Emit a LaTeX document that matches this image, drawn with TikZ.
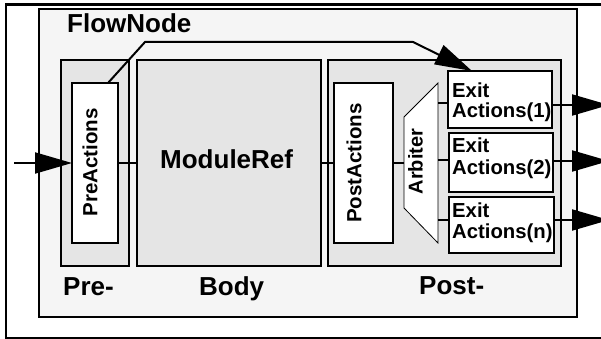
\documentclass[tikz,border=0pt]{standalone}
\usepackage{fontspec}
\setmainfont{Liberation Sans}
\usepackage{graphicx}
\usetikzlibrary{arrows.meta}
\definecolor{nodefill}{HTML}{F5F5F5}
\definecolor{partfill}{HTML}{E5E5E5}
\begin{document}
\begin{tikzpicture}[x=1pt,y=-1pt,
  box/.style={draw,line width=2pt,inner sep=0pt,outer sep=0pt,anchor=north west},
  part/.style={box,fill=partfill,minimum height=206pt},
  actbox/.style={box,fill=white,minimum height=160pt},
  exitbox/.style={box,fill=white},
  biglabel/.style={font=\bfseries\fontsize{26}{28}\selectfont,inner sep=0pt,anchor=base west},
  vlabel/.style={font=\bfseries\fontsize{20.5}{22}\selectfont,inner sep=0pt,rotate=90},
  exitlabel/.style={font=\bfseries\fontsize{20.3}{21}\selectfont,inner sep=0pt,anchor=base west,align=left},
  wire/.style={line width=2pt},
  arrow/.style={line width=2pt,-{Triangle[length=37pt,width=21pt]}}]
\useasboundingbox (0,0) rectangle (601,339);
\clip (0,0) rectangle (601,339);

% frame and flow node
\node[box,line width=2.5pt,minimum width=610pt,minimum height=333.5pt] (frame) at (6,4.5) {};
\node[box,fill=nodefill,minimum width=538pt,minimum height=308pt] (flow) at (39,9) {};
\node[biglabel] (flowlbl) at (67,33) {FlowNode};

% the three parts
\node[part,minimum width=68pt] (pre) at (61,60) {};
\node[part,minimum width=184pt] (body) at (137,60) {};
\node[part,minimum width=233pt] (post) at (328,60) {};
\node[biglabel] (prelbl) at (63,295) {Pre-};
\node[biglabel] (bodylbl) at (199,295) {Body};
\node[biglabel] (postlbl) at (419,294) {Post-};
\node[biglabel] (modref) at (160,168) {ModuleRef};

% action boxes
\node[actbox,minimum width=46pt] (pa) at (72,83) {};
\node[vlabel] (palbl) at (90,162.5) {PreActions};
\node[actbox,minimum width=59pt] (pst) at (334,83) {};
\node[vlabel] (pstlbl) at (354,163) {PostActions};

% arbiter
\node[inner sep=0pt,outer sep=0pt,anchor=north west,minimum width=34pt,minimum height=160pt] (arb) at (404,83) {};
\draw[line width=0.8pt,fill=white] (arb.north east) -- (arb.south east)
  -- ([yshift=35pt]arb.south west) -- ([yshift=-34pt]arb.north west) -- cycle;
\node[vlabel,font=\bfseries\fontsize{20}{22}\selectfont] (arblbl) at (415.5,161.5) {Arbiter};

% exit actions
\node[exitbox,minimum width=104pt,minimum height=57pt] (ex1) at (448,71) {};
\node[exitbox,minimum width=104pt,minimum height=59pt] (ex2) at (449,133) {};
\node[exitbox,minimum width=105pt,minimum height=56pt] (exn) at (449,197) {};
\node[exitlabel] (ex1lbl) at (452,118) {Exit\\[-1pt]Actions(1)};
\node[exitlabel] (ex2lbl) at (452,174) {Exit\\Actions(2)};
\node[exitlabel] (exnlbl) at (452,238) {Exit\\Actions(n)};

% wiring
\coordinate (src) at (14,163);
\coordinate (rim) at (609,0);
\coordinate (bendA) at (145,42);
\coordinate (bendB) at (413,42);
\coordinate (in1) at ([yshift=-3.5pt]ex1.west);
\coordinate (in2) at ([yshift=2.5pt]ex2.west);
\coordinate (inn) at ([yshift=5pt]exn.west);
\coordinate (out1) at ([yshift=-5.5pt]ex1.east);
\coordinate (out2) at ([yshift=1.5pt]ex2.east);
\coordinate (outn) at ([yshift=5pt]exn.east);

\draw[arrow] (src) -- (pa.west);
\draw[wire] (pa.east) -- (body.west);
\draw[wire] (body.east) -- (pst.west);
\draw[wire] (pst.east) -- (arb.west);
\draw[wire] (arb.east |- in1) -- (in1);
\draw[wire] (arb.east |- in2) -- (in2);
\draw[wire] (arb.east |- inn) -- (inn);
\draw[arrow] (out1) -- (out1 -| rim);
\draw[arrow] (out2) -- (out2 -| rim);
\draw[arrow] (outn) -- (outn -| rim);
\draw[arrow] ([xshift=13pt]pa.north) -- (bendA) -- (bendB) -- ([xshift=-28pt]ex1.north);
\end{tikzpicture}
\end{document}
